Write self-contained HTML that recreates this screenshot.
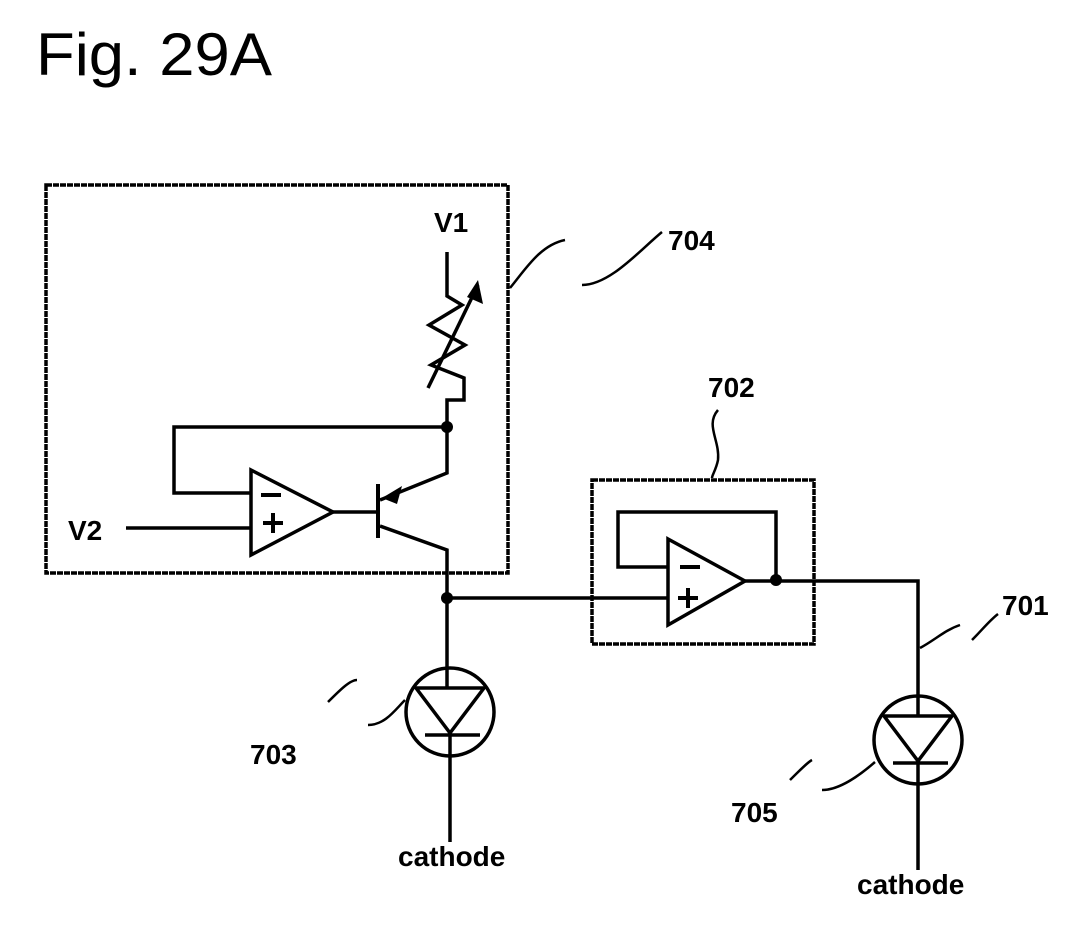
<!DOCTYPE html>
<html><head><meta charset="utf-8"><style>body{margin:0;background:#fff}</style></head><body>
<svg width="1087" height="921" viewBox="0 0 1087 921" xmlns="http://www.w3.org/2000/svg" font-family="Liberation Sans, sans-serif" font-weight="bold">
<text x="36" y="75" font-size="60" font-weight="normal" textLength="236" lengthAdjust="spacingAndGlyphs">Fig. 29A</text>
<g fill="none" stroke="#000" stroke-width="3.5">
<rect x="46" y="185" width="462" height="388" stroke-dasharray="6 1"/>
<rect x="592" y="480" width="222" height="164" stroke-dasharray="6 1"/>
<path d="M447 252 V296 L462 305 L429 325 L465 345 L431 365 L464 378 V400 L447 400 V427"/>
<path d="M428 388 L478 285"/>
<path d="M447 427 H174 V493 H251"/>
<path d="M126 528 H251"/>
<path d="M251 470 L333 512 L251 555 Z"/>
<path d="M333 512 H377"/>
<path d="M378 484 V538" stroke-width="4"/>
<path d="M380 500 L447 473 V427"/>
<path d="M380 526 L447 550 V688"/>
<path d="M447 598 H668"/>
<path d="M668 539 L745 581 L668 625 Z"/>
<path d="M668 567 H618 V512 H776 V581"/>
<path d="M745 581 H918 V716"/>
<circle cx="450" cy="712" r="44"/>
<path d="M416 688 H484 L450 733 Z M425 735 H480 M450 735 V842"/>
<circle cx="918" cy="740" r="44"/>
<path d="M884 716 H952 L918 761 Z M893 763 H948 M918 763 V870"/>
<path d="M510 288 C525 270 540 245 565 240 M582 285 C610 285 640 250 662 232" stroke-width="2.5"/>
<path d="M718 410 C705 425 720 440 718 460 C716 470 712 475 712 478" stroke-width="2.5"/>
<path d="M920 648 C935 640 945 630 960 625 M972 640 C982 630 990 620 998 614" stroke-width="2.5"/>
<path d="M328 702 C340 690 350 680 357 680 M368 725 C385 725 395 710 405 700" stroke-width="2.5"/>
<path d="M790 780 C800 770 808 762 812 760 M822 790 C840 790 860 775 875 762" stroke-width="2.5"/>
<path d="M261 495 H281 M263 523 H283 M273 513 V533 M680 567 H700 M678 598 H698 M688 588 V608" stroke-width="4"/>
</g>
<g fill="#000">
<path d="M478 280 L483 304 L467 297 Z"/>
<path d="M382 498 L402 486 L397 504 Z"/>
<circle cx="447" cy="427" r="6"/><circle cx="447" cy="598" r="6"/><circle cx="776" cy="580" r="6"/>
</g>
<g font-size="28">
<text x="434" y="232">V1</text>
<text x="68" y="540">V2</text>
<text x="668" y="250">704</text>
<text x="708" y="397">702</text>
<text x="1002" y="615">701</text>
<text x="250" y="764">703</text>
<text x="731" y="822">705</text>
<text x="398" y="866">cathode</text>
<text x="857" y="894">cathode</text>
</g>
</svg>
</body></html>
